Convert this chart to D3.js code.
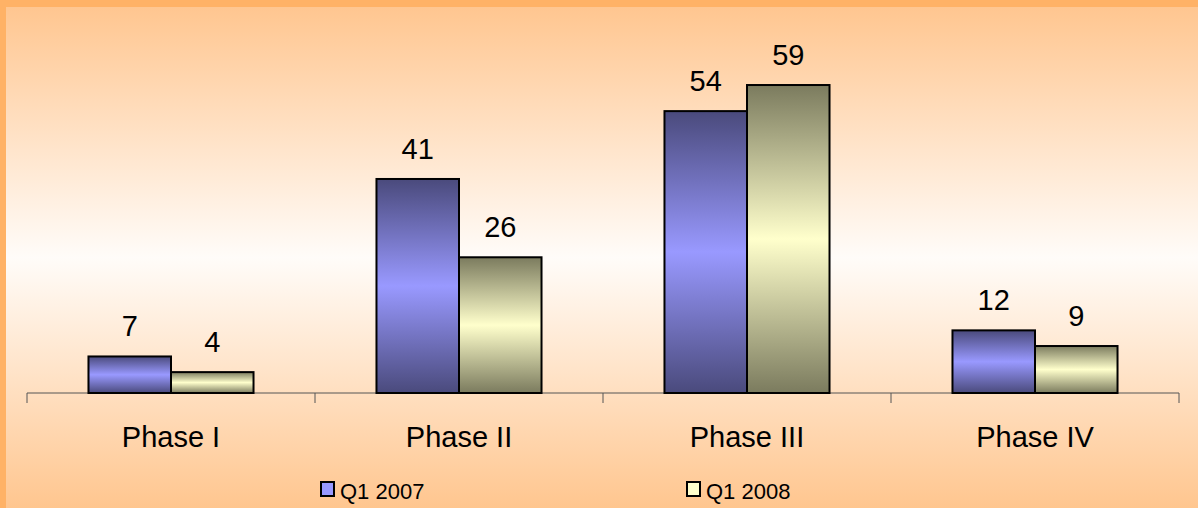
<!DOCTYPE html>
<html>
<head>
<meta charset="utf-8">
<script src="https://cdn.jsdelivr.net/npm/d3@7"></script>
<style>
  html, body { margin: 0; padding: 0; background: #fff; }
  svg { display: block; font-family: "Liberation Sans", Arial, sans-serif; }
</style>
</head>
<body>
<svg id="chart" width="1198" height="508"></svg>
<script>
// chart data
const phases = ["Phase I", "Phase II", "Phase III", "Phase IV"];
const seriesNames = ["Q1 2007", "Q1 2008"];
const q2007 = [7, 41, 54, 12];
const q2008 = [4, 26, 59, 9];

const W = 1198, H = 508;
const svg = d3.select('#chart');
let defs = svg.append('defs');

// background: orange -> near white -> orange
let bg = defs.append('linearGradient').attr('id', 'bg').attr('x1', 0).attr('y1', 0).attr('x2', 0).attr('y2', 1);
bg.append('stop').attr('offset', '0%').attr('stop-color', '#ffc690');
bg.append('stop').attr('offset', '50%').attr('stop-color', '#fffcf9');
bg.append('stop').attr('offset', '100%').attr('stop-color', '#ffc68f');

// bar fills, dark at the edges and light in the middle
function barGrad(id, dark, light){
    let g = defs.append('linearGradient').attr('id', id).attr('x1', 0).attr('y1', 0).attr('x2', 0).attr('y2', 1);
    g.append('stop').attr('offset', '0%').attr('stop-color', dark);
    g.append('stop').attr('offset', '50%').attr('stop-color', light);
    g.append('stop').attr('offset', '100%').attr('stop-color', dark);
}
barGrad('g2007', '#4a4a7c', '#9999ff');
barGrad('g2008', '#7b7b5e', '#ffffcc');
const fills = ['url(#g2007)', 'url(#g2008)'];
const flat = ['#9999ff', '#ffffcc'];

// frame
svg.append('rect').attr('width', W).attr('height', H).attr('fill', '#ffb266');
svg.append('rect').attr('x', 6).attr('y', 7).attr('width', W - 6).attr('height', H - 7).attr('fill', 'url(#bg)');

const x0 = d3.scaleBand().domain(phases).range([27, 1179]).padding(0);
const x1 = d3.scaleBand().domain(seriesNames).range([0, x0.bandwidth()]).paddingInner(0).paddingOuter(0.745);
const y = d3.scaleLinear().domain([0, 70]).range([393, 27.6]);

// axis
let axis = svg.append('g').attr('transform', `translate(0,${y(0)})`)
    .call(d3.axisBottom(x0).tickSize(0).tickFormat(''));
axis.select('.domain').attr('stroke', '#555').attr('stroke-width', 1).attr('d', `M27,0H1179`);
let tickPos = phases.map(p => x0(p)).concat([x0.range()[1]]);
axis.selectAll('line.sep').data(tickPos).join('line').classed('sep', true)
    .attr('x1', d => d).attr('x2', d => d).attr('y1', 0).attr('y2', 10)
    .attr('stroke', '#555').attr('stroke-width', 1);

// bars
const rows = phases.map((p, i) => ({ phase: p, vals: [q2007[i], q2008[i]] }));
let groups = svg.selectAll('g.grp').data(rows).join('g').classed('grp', true)
    .attr('transform', d => `translate(${x0(d.phase)},0)`);

groups.selectAll('rect').data(d => d.vals.map((v, k) => ({ k, v }))).join('rect')
    .attr('x', d => x1(seriesNames[d.k]))
    .attr('y', d => y(d.v))
    .attr('width', x1.bandwidth())
    .attr('height', d => y(0) - y(d.v))
    .attr('fill', d => fills[d.k])
    .attr('stroke', '#000').attr('stroke-width', 2);

groups.selectAll('text').data(d => d.vals.map((v, k) => ({ k, v }))).join('text')
    .attr('x', d => x1(seriesNames[d.k]) + x1.bandwidth() / 2)
    .attr('y', d => y(d.v) - 20)
    .attr('text-anchor', 'middle')
    .attr('font-size', 29)
    .attr('fill', '#000')
    .text(d => d.v);

// category labels
svg.selectAll('text.cat').data(phases).join('text').classed('cat', true)
    .attr('x', d => x0(d) + x0.bandwidth() / 2)
    .attr('y', 447)
    .attr('text-anchor', 'middle')
    .attr('font-size', 29)
    .text(d => d);

// legend
const legX = [321, 687];
let leg = svg.selectAll('g.leg').data(seriesNames).join('g').classed('leg', true)
    .attr('transform', (d, i) => `translate(${legX[i]},482)`);
leg.append('rect').attr('width', 13).attr('height', 14)
    .attr('fill', (d, i) => flat[i]).attr('stroke', '#000').attr('stroke-width', 2);
leg.append('text').attr('x', 19).attr('y', 17).attr('font-size', 22).text(d => d);
</script>
</body>
</html>
